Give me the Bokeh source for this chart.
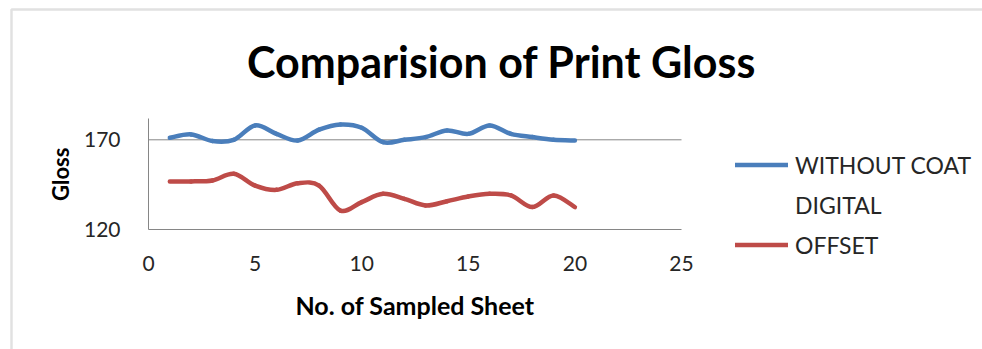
import math
from bokeh.plotting import figure
from bokeh.models import Range1d, Legend, LegendItem, ColumnDataSource, Label, BoxAnnotation
from bokeh.embed import file_html
from bokeh.resources import INLINE

# ---- data ----
sheet = list(range(1, 21))
without_coat_digital = [171.1, 173.0, 169.3, 170.0, 178.0, 173.3, 169.6, 175.6, 178.5, 176.7,
                        168.7, 170.0, 171.5, 175.2, 173.3, 178.0, 173.3, 171.5, 170.0, 169.6]
offset_print = [146.9, 146.9, 147.4, 151.1, 144.6, 142.2, 145.9, 144.6, 130.7, 135.4,
                140.0, 137.2, 133.5, 135.9, 138.5, 140.0, 139.1, 132.6, 139.1, 132.6]
x_ticks = [0, 5, 10, 15, 20, 25]
y_ticks = [120, 170]
y_axis_top = 181.7
series_names = ["WITHOUT COAT", "DIGITAL", "OFFSET"]
chart_title = "Comparision of Print Gloss"
x_title = "No. of Sampled Sheet"
y_title = "Gloss"

BLUE = "#4A7EBB"
RED = "#BE4B48"
AXIS = "#868686"
FONT = "Lato"

X_START, X_END = -6.942, 39.118
Y_START, Y_END = 53.5, 247.39


def smooth_segments(xs, ys):
    """Catmull-Rom style smoothing of the series into cubic bezier segments."""
    n = len(xs)
    seg = dict(x0=[], y0=[], x1=[], y1=[], cx0=[], cy0=[], cx1=[], cy1=[])
    for i in range(n - 1):
        p0 = (xs[max(i - 1, 0)], ys[max(i - 1, 0)])
        p1 = (xs[i], ys[i])
        p2 = (xs[i + 1], ys[i + 1])
        p3 = (xs[min(i + 2, n - 1)], ys[min(i + 2, n - 1)])
        seg["x0"].append(p1[0]); seg["y0"].append(p1[1])
        seg["x1"].append(p2[0]); seg["y1"].append(p2[1])
        seg["cx0"].append(p1[0] + (p2[0] - p0[0]) / 6.0)
        seg["cy0"].append(p1[1] + (p2[1] - p0[1]) / 6.0)
        seg["cx1"].append(p2[0] - (p3[0] - p1[0]) / 6.0)
        seg["cy1"].append(p2[1] - (p3[1] - p1[1]) / 6.0)
    return ColumnDataSource(seg)


# the frame covers the whole canvas (so title, legend and labels are not clipped);
# the axes are pinned to the data origin and bounded to the data area
p = figure(width=982, height=349, output_backend="svg", toolbar_location=None,
           x_range=Range1d(X_START, X_END), y_range=Range1d(Y_START, Y_END),
           min_border=0)

p.outline_line_color = None
p.background_fill_color = "white"
p.border_fill_color = "white"

# chart-area border (left and top edges visible)
p.add_layout(BoxAnnotation(left=-6.426, top=242.39, right=X_END + 5, bottom=Y_START - 5,
                           fill_alpha=0, line_color="#9c9c9c", line_width=2.5))

# horizontal gridline at the upper tick, limited to the axis extent
p.segment(x0=x_ticks[0], x1=x_ticks[-1], y0=y_ticks[1], y1=y_ticks[1],
          line_color=AXIS, line_width=1)

r_blue = p.bezier(x0="x0", y0="y0", x1="x1", y1="y1", cx0="cx0", cy0="cy0", cx1="cx1", cy1="cy1",
                  source=smooth_segments(sheet, without_coat_digital),
                  line_color=BLUE, line_width=4.5, line_cap="round")
r_red = p.bezier(x0="x0", y0="y0", x1="x1", y1="y1", cx0="cx0", cy0="cy0", cx1="cx1", cy1="cy1",
                 source=smooth_segments(sheet, offset_print),
                 line_color=RED, line_width=4.5, line_cap="round")
r_blank = p.line(sheet, without_coat_digital, line_alpha=0)

# axes
for ax in (p.xaxis, p.yaxis):
    ax.axis_line_color = AXIS
    ax.axis_line_width = 1
    ax.major_tick_line_color = None
    ax.minor_tick_line_color = None
    ax.major_label_text_font = FONT
    ax.major_label_text_font_size = "21px"
    ax.major_label_text_color = "#262626"
    ax.axis_label_text_font = FONT
    ax.axis_label_text_font_style = "bold"
    ax.axis_label_text_color = "black"

p.xaxis.ticker = x_ticks
p.yaxis.ticker = y_ticks
p.xaxis.bounds = (x_ticks[0], x_ticks[-1])
p.yaxis.bounds = (y_ticks[0], y_axis_top)
p.xaxis.fixed_location = y_ticks[0]
p.yaxis.fixed_location = x_ticks[0]
p.xaxis.axis_label = x_title
p.xaxis.axis_label_text_font_size = "25px"
p.xaxis.major_label_standoff = 20
p.yaxis.major_label_standoff = 22
p.xaxis.axis_label_standoff = 16

p.xgrid.grid_line_color = None
p.ygrid.grid_line_color = None

# y-axis title, centred on the value axis
p.add_layout(Label(x=-4.13, y=(y_ticks[0] + y_axis_top) / 2, text=y_title, angle=math.pi / 2,
                   text_align="center", text_baseline="middle", text_font=FONT,
                   text_font_style="bold", text_font_size="22px", text_color="black"))

# chart title
p.add_layout(Label(x=16.56, y=213.5, text=chart_title, text_align="center",
                   text_baseline="alphabetic", text_font=FONT, text_font_style="bold",
                   text_font_size="43px", text_color="black"))

# legend
leg = Legend(items=[LegendItem(label=series_names[0], renderers=[r_blue]),
                    LegendItem(label=series_names[1], renderers=[r_blank]),
                    LegendItem(label=series_names[2], renderers=[r_red])],
             location=(735, 87))
leg.padding = 0
leg.margin = 0
leg.border_line_color = None
leg.background_fill_alpha = 0
leg.glyph_width = 53
leg.glyph_height = 35
leg.label_height = 35
leg.spacing = 5
leg.label_standoff = 7
leg.label_text_font = FONT
leg.label_text_font_size = "23px"
leg.label_text_color = "#262626"
p.add_layout(leg, "center")

open("out.html", "w").write(file_html(p, INLINE))
